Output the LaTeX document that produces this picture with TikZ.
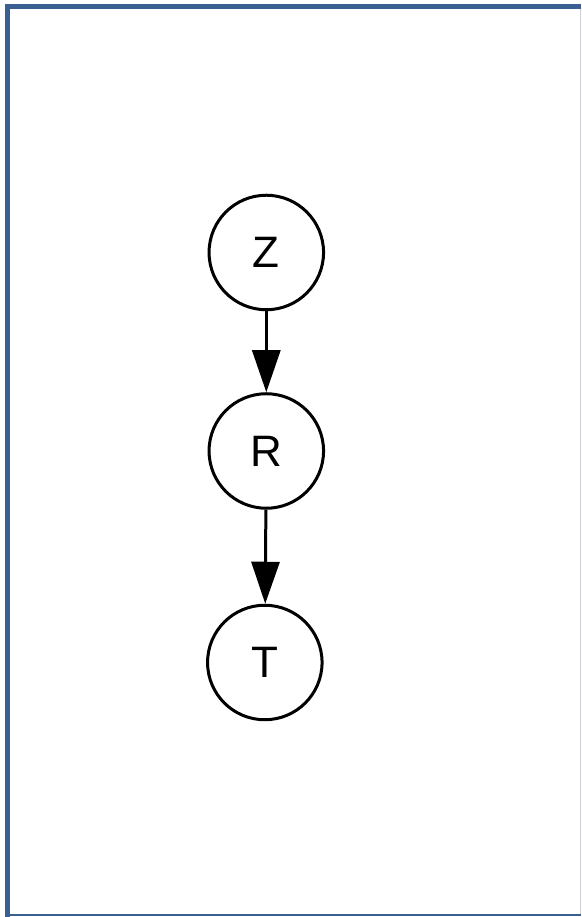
\documentclass[tikz,border=0pt]{standalone}
\usepackage{fontspec}
\setmainfont{Liberation Sans}
\usetikzlibrary{arrows.meta}
\definecolor{framecol}{RGB}{58,96,145}
\definecolor{rightcol}{RGB}{205,208,215}
\begin{document}
\begin{tikzpicture}[x=1pt,y=1pt,
  var/.style={circle,draw=black,line width=3pt,minimum size=114.5pt,inner sep=0pt,
    font=\fontsize{44}{52}\selectfont},
  edgearrow/.style={line width=3pt,-{Triangle[length=42pt,width=28pt]}}]
\useasboundingbox (0,0) rectangle (581,917);
% frame
\draw[framecol,line width=5pt] (7.5,0) -- (7.5,910.5);
\draw[framecol,line width=5pt] (5,910.5) -- (581,910.5);
\draw[framecol,line width=2pt] (5,2) -- (581,2);
\draw[rightcol,line width=1pt] (580,3) -- (580,908);
% nodes
\node[var] (z) at (266.3,664.5) {Z};
\node[var] (r) at (266.3,466) {R};
\node[var] (t) at (264.8,254.5) {T};
% edges
\draw[edgearrow] (z) -- (r);
\draw[edgearrow] (r) -- (t);
\end{tikzpicture}
\end{document}
